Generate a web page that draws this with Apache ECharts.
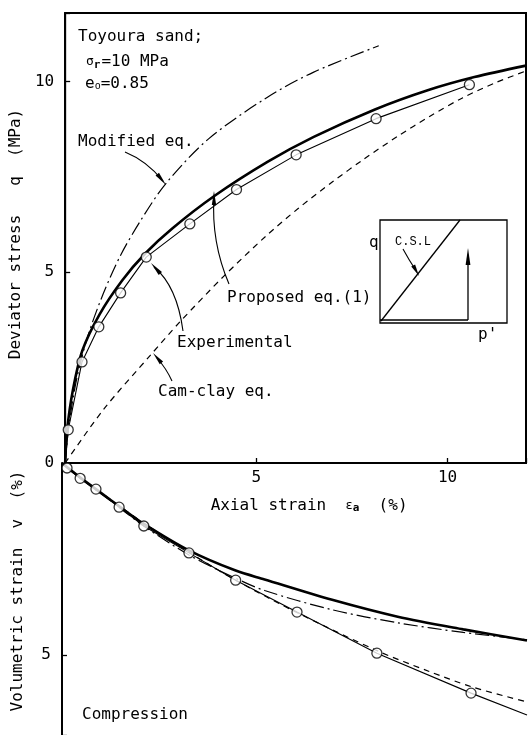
<!DOCTYPE html>
<html>
<head>
<meta charset="utf-8">
<script src="https://cdn.jsdelivr.net/npm/echarts@6/dist/echarts.min.js"></script>
<style>
  html, body { margin: 0; padding: 0; background: #fff; }
  #chart { width: 529px; height: 735px; }
</style>
</head>
<body>
<div id="chart"></div>
<script>
// ---- Triaxial test on Toyoura sand: q–εa (upper) and v–εa (lower) ----

// Upper panel: deviator stress q (MPa) against axial strain εa (%)
const expStrainQ   = [0.08, 0.44, 0.88, 1.45, 2.12, 3.26, 4.48, 6.04, 8.13, 10.57];
const expQ         = [0.87, 2.65, 3.57, 4.46, 5.40, 6.27, 7.17, 8.08, 9.03, 9.92];

const proposedStrainQ = [0, 0.05, 0.2, 0.45, 0.9, 1.5, 2.1, 2.8, 3.9, 5.3, 6.5, 8.1, 9.5, 10.7, 12.05];
const proposedQ       = [0, 0.85, 1.9, 2.95, 3.9, 4.8, 5.5, 6.15, 7.0, 7.9, 8.55, 9.27, 9.78, 10.12, 10.42];

const modifiedStrainQ = [0, 0.1, 0.3, 0.6, 1.0, 1.45, 2.0, 2.65, 3.75, 5.3, 6.5, 8.2];
const modifiedQ       = [0, 1.0, 2.2, 3.35, 4.45, 5.45, 6.4, 7.35, 8.5, 9.6, 10.25, 10.94];

const camclayStrainQ  = [0, 1.0, 2.25, 3.0, 4.15, 5.25, 6.1, 7.0, 7.8, 8.7, 9.55, 10.4, 11.25, 12.05];
const camclayQ        = [0, 1.4, 2.85, 3.7, 4.9, 5.95, 6.68, 7.38, 7.96, 8.57, 9.1, 9.58, 9.97, 10.28];

// Lower panel: volumetric strain v (%, compression positive, drawn downward)
const expStrainV   = [0.13, 0.47, 0.88, 1.48, 2.12, 3.29, 4.50, 6.09, 8.16, 10.60];
const expV         = [0.13, 0.40, 0.68, 1.15, 1.64, 2.34, 3.05, 3.88, 4.95, 5.99];
const expTailStrainV = [12.05];
const expTailV       = [6.56];

const proposedStrainV = [0, 0.5, 1.0, 1.5, 2.1, 3.3, 4.5, 5.25, 7.0, 8.7, 10.4, 12.05];
const proposedV       = [0, 0.4, 0.77, 1.14, 1.57, 2.28, 2.8, 3.03, 3.56, 4.0, 4.33, 4.62];

const modifiedStrainV = [0, 0.5, 1.0, 1.5, 2.1, 3.3, 4.5, 5.25, 7.0, 8.7, 10.4, 12.05];
const modifiedV       = [0, 0.42, 0.79, 1.17, 1.63, 2.4, 3.0, 3.32, 3.82, 4.16, 4.41, 4.6];

const camclayStrainV  = [0, 0.5, 1.0, 1.5, 2.1, 3.3, 4.5, 6.1, 8.2, 9.5, 10.6, 12.05];
const camclayV        = [0, 0.4, 0.76, 1.13, 1.55, 2.33, 3.05, 3.9, 4.9, 5.42, 5.82, 6.22];

// Tick labels
const strainTicks = [5, 10];
const qTicks      = [0, 5, 10];
const vTicks      = [5];

const FONT = 'DejaVu Sans Mono';
const BLACK = '#000';

const zip = (xs, ys) => xs.map((x, i) => [x, ys[i]]);

const chart = echarts.init(document.getElementById('chart'), null, { renderer: 'canvas' });

const tickFmt = list => v => (list.some(t => Math.abs(t - v) < 1e-9) ? String(v) : '');

const labelStyle = { color: BLACK, fontFamily: FONT, fontSize: 16 };

function curve(name, xs, ys, xi, style) {
  return {
    name, type: 'line', xAxisIndex: xi, yAxisIndex: xi,
    data: zip(xs, ys), showSymbol: false, symbol: 'none',
    smooth: 0.3, silent: true,
    lineStyle: Object.assign({ color: BLACK }, style), z: 3
  };
}

function points(name, xs, ys, xi) {
  return {
    name, type: 'scatter', xAxisIndex: xi, yAxisIndex: xi,
    data: zip(xs, ys), symbol: 'circle', symbolSize: 10, silent: true,
    itemStyle: { color: '#fff', borderColor: BLACK, borderWidth: 1.3 }, z: 5
  };
}

// Arrow helpers for annotation leaders (pixel-space decorations)
function leader(x0, y0, cx, cy, x1, y1) {
  return {
    type: 'bezierCurve',
    shape: { x1: x0, y1: y0, cpx1: cx, cpy1: cy, x2: x1, y2: y1 },
    style: { stroke: BLACK, lineWidth: 1.1, fill: null }, z: 10
  };
}
function head(fromX, fromY, tipX, tipY, len, half) {
  const dx = tipX - fromX, dy = tipY - fromY, d = Math.hypot(dx, dy);
  const ux = dx / d, uy = dy / d;
  const bx = tipX - ux * len, by = tipY - uy * len;
  return {
    type: 'polygon',
    shape: { points: [[tipX, tipY], [bx - uy * half, by + ux * half], [bx + uy * half, by - ux * half]] },
    style: { fill: BLACK }, z: 10
  };
}
function text(x, y, str, extra) {
  return {
    type: 'text', x, y, z: 10,
    style: Object.assign({ text: str, fill: BLACK, font: '16px "' + FONT + '"', verticalAlign: 'middle' }, extra || {})
  };
}

const graphics = [
  text(78, 37, 'Toyoura sand;'),
  text(86, 62, '{g|σ}{s|r}=10 MPa', {
    rich: {
      g: { fontFamily: FONT, fontSize: 13, fill: BLACK },
      s: { fontFamily: FONT, fontSize: 11, fontWeight: 'bold', fill: BLACK, padding: [6, 1, 0, 0] }
    }
  }),
  text(85, 84, 'e{s|o}=0.85', {
    rich: { s: { fontFamily: FONT, fontSize: 10, fill: BLACK, padding: [5, 0, 0, 0] } }
  }),
  text(78, 142, 'Modified eq.'),
  text(227, 298, 'Proposed eq.(1)'),
  text(177, 343, 'Experimental'),
  text(158, 392, 'Cam-clay eq.'),
  text(82, 715, 'Compression'),

  // Leaders from the labels to their curves
  leader(125, 152, 147, 161, 163, 181),
  head(150, 165, 166, 185, 14, 2.2),
  leader(229, 284, 211, 242, 214, 196),
  head(214, 215, 214, 191, 14, 2.2),
  leader(183, 331, 177, 286, 154, 267),
  head(168, 282, 151, 263, 14, 2.2),
  leader(172, 381, 166, 368, 157, 358),
  head(165, 367, 153, 353, 13, 2.2),

  // Inset: stress path in q–p' plane with critical state line
  { type: 'rect', shape: { x: 380, y: 220, width: 127, height: 103 },
    style: { stroke: BLACK, lineWidth: 1.3, fill: null }, z: 10 },
  { type: 'line', shape: { x1: 381, y1: 321, x2: 460, y2: 220 },
    style: { stroke: BLACK, lineWidth: 1.3 }, z: 10 },
  { type: 'line', shape: { x1: 380, y1: 320, x2: 468, y2: 320 },
    style: { stroke: BLACK, lineWidth: 1.6 }, z: 10 },
  { type: 'line', shape: { x1: 468, y1: 320, x2: 468, y2: 262 },
    style: { stroke: BLACK, lineWidth: 1.3 }, z: 10 },
  head(468, 272, 468, 248, 17, 2.4),
  text(369, 243, 'q'),
  text(395, 242, 'C.S.L', { font: '12px "Liberation Mono"' }),
  leader(403, 249, 409, 260, 415, 269),
  head(409, 258, 419, 276, 12, 2.2),
  text(478, 335, "p'")
];

const option = {
  animation: false,
  backgroundColor: '#fff',
  grid: [
    { left: 62, right: 2, top: 13, height: 450, show: true, borderColor: BLACK, borderWidth: 2 },
    { left: 62, right: 2, top: 463, height: 272 }
  ],
  xAxis: [
    {
      gridIndex: 0, type: 'value', min: 0, max: 12.05, interval: 5,
      axisLine: { onZero: false, lineStyle: { color: BLACK, width: 2 } },
      axisTick: { inside: true, length: 5, lineStyle: { color: BLACK, width: 1.3 } },
      axisLabel: Object.assign({ formatter: tickFmt(strainTicks), margin: 7 }, labelStyle),
      splitLine: { show: false },
      name: 'Axial strain  {e|ε}{a|a}  (%)',
      nameLocation: 'middle', nameGap: 34,
      nameTextStyle: {
        color: BLACK, fontFamily: FONT, fontSize: 16, padding: [0, 0, 0, 27],
        rich: {
          e: { fontFamily: FONT, fontSize: 12, color: BLACK },
          a: { fontFamily: FONT, fontSize: 11, fontWeight: 'bold', color: BLACK, padding: [6, 0, 0, 0] }
        }
      }
    },
    {
      gridIndex: 1, type: 'value', min: 0, max: 12.05, interval: 5, show: false
    }
  ],
  yAxis: [
    {
      gridIndex: 0, type: 'value', min: 0, max: 11.8, interval: 5,
      axisLine: { onZero: false, lineStyle: { color: BLACK, width: 2 } },
      axisTick: { inside: true, length: 5, lineStyle: { color: BLACK, width: 1.3 } },
      axisLabel: Object.assign({ formatter: tickFmt(qTicks), margin: 11 }, labelStyle),
      splitLine: { show: false },
      name: 'Deviator stress   q  (MPa)',
      nameLocation: 'middle', nameRotate: 90, nameGap: 36,
      nameTextStyle: { color: BLACK, fontFamily: FONT, fontSize: 16, padding: [0, 0, 0, 8] }
    },
    {
      gridIndex: 1, type: 'value', min: 0, max: 7.08, interval: 5, inverse: true,
      axisLine: { onZero: false, lineStyle: { color: BLACK, width: 2 } },
      axisTick: { inside: true, length: 5, lineStyle: { color: BLACK, width: 1.3 } },
      axisLabel: Object.assign({ formatter: tickFmt(vTicks), margin: 11 }, labelStyle),
      splitLine: { show: false },
      name: 'Volumetric strain  v  (%)',
      nameLocation: 'middle', nameRotate: 90, nameGap: 36,
      nameTextStyle: { color: BLACK, fontFamily: FONT, fontSize: 16, padding: [0, 0, 0, 16] }
    }
  ],
  series: [
    curve('Proposed eq.(1)', proposedStrainQ, proposedQ, 0, { width: 2.6 }),
    curve('Modified eq.', modifiedStrainQ, modifiedQ, 0, { width: 1.2, type: [14, 4, 2, 4] }),
    curve('Cam-clay eq.', camclayStrainQ, camclayQ, 0, { width: 1.2, type: [6, 5] }),
    {
      name: 'Experimental', type: 'line', xAxisIndex: 0, yAxisIndex: 0,
      data: [[0, 0]].concat(zip(expStrainQ, expQ)), showSymbol: false, symbol: 'none',
      silent: true, lineStyle: { color: BLACK, width: 1.1 }, z: 4
    },
    points('Experimental', expStrainQ, expQ, 0),

    curve('Proposed eq.(1)', proposedStrainV, proposedV, 1, { width: 2.6 }),
    curve('Modified eq.', modifiedStrainV, modifiedV, 1, { width: 1.2, type: [14, 4, 2, 4] }),
    curve('Cam-clay eq.', camclayStrainV, camclayV, 1, { width: 1.2, type: [6, 5] }),
    {
      name: 'Experimental', type: 'line', xAxisIndex: 1, yAxisIndex: 1,
      data: [[0, 0]].concat(zip(expStrainV, expV), zip(expTailStrainV, expTailV)),
      showSymbol: false, symbol: 'none', silent: true,
      lineStyle: { color: BLACK, width: 1.1 }, z: 4
    },
    points('Experimental', expStrainV, expV, 1)
  ],
  graphic: graphics
};

chart.setOption(option);
</script>
</body>
</html>
